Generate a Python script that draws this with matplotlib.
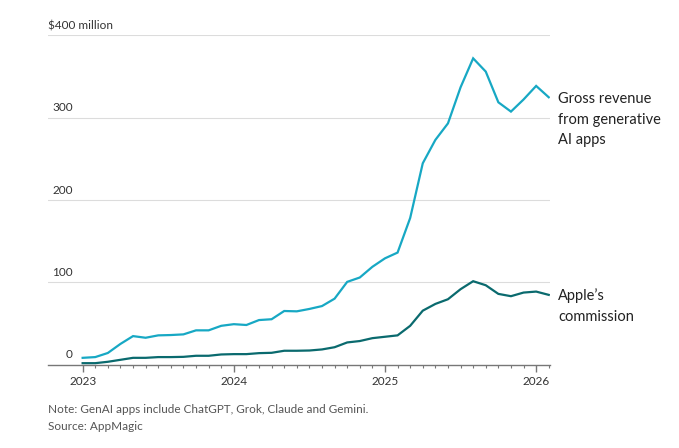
import matplotlib
matplotlib.use("Agg")
import matplotlib.pyplot as plt
import matplotlib.transforms as mtransforms
import numpy as np

# monthly values, Jan 2023 - Feb 2026, $ million
gross_revenue = [8.1, 9, 14, 25, 34.5, 32.5, 35.4, 35.8, 36.6, 41.5, 41.5, 47,
                 49, 48, 54, 55, 65, 64.6, 67.5, 71, 80, 100.4, 105.7, 118.7,
                 129, 136, 178, 244.5, 272.9, 293, 336.8, 372, 355.9, 318.6, 307.3, 322,
                 338.5, 324.7]
apple_commission = [1.6, 1.6, 3.3, 5.7, 8.1, 8.1, 9, 9, 9.3, 10.6, 10.6, 12.2,
                    12.6, 12.6, 13.8, 14.2, 16.7, 16.7, 17, 18.3, 21, 26.8, 28.5, 32,
                    33.7, 35.4, 47, 65.4, 73.6, 79.3, 91.5, 101.2, 96.3, 85.8, 83, 87.4,
                    88.6, 84.6]
year_labels = ["2023", "2024", "2025", "2026"]
y_labels = ["0", "100", "200", "300", "$400 million"]
y_values = [0, 100, 200, 300, 400]

plt.rcParams['font.family'] = ['Lato', 'DejaVu Sans']

fig = plt.figure(figsize=(6.79, 4.48), dpi=100)
ax = fig.add_axes([48 / 679, (448 - 364.5) / 448, 502 / 679, 329.2 / 448])

months = np.arange(len(gross_revenue))

# gridlines
for v in y_values[1:]:
    ax.axhline(v, color="#dcdcdc", lw=0.8, zorder=0)

ax.plot(months, gross_revenue, color="#17a8c4", lw=1.6, solid_joinstyle="miter")
ax.plot(months, apple_commission, color="#0a6a6e", lw=1.6, solid_joinstyle="miter")

ax.set_xlim(-2.75, 37.1)
ax.set_ylim(0, 400)

for s in ["top", "right", "left"]:
    ax.spines[s].set_visible(False)
ax.spines["bottom"].set_color("#777777")
ax.spines["bottom"].set_linewidth(1)

ax.set_yticks([])
ax.set_xticks([0, 12, 24, 36])
ax.set_xticklabels(year_labels, fontsize=8.5, color="#333333")
ax.set_xticks(np.arange(0, 38), minor=True)
ax.tick_params(axis="x", which="major", length=5, width=1, color="#777777", pad=3)
ax.tick_params(axis="x", which="minor", length=2.5, width=0.8, color="#777777")

# y labels sitting above gridlines
tr = ax.get_yaxis_transform() + mtransforms.ScaledTranslation(0, 3 / 72, fig.dpi_scale_trans)
for v, lab in zip(y_values, y_labels):
    if v == 400:
        ax.text(0, v, lab, transform=tr, ha="left", va="bottom", fontsize=8.5, color="#333333")
    else:
        ax.text(25 / 502, v, lab, transform=tr, ha="right", va="bottom", fontsize=8.5, color="#333333")

# series labels
fig.text(558 / 679, 1 - 92 / 448, "Gross revenue\nfrom generative\nAI apps", ha="left", va="top",
         fontsize=10.5, color="#222222", linespacing=1.6)
fig.text(558 / 679, 1 - 288 / 448, "Apple\u2019s\ncommission", ha="left", va="top",
         fontsize=10.5, color="#222222", linespacing=1.65)

# footer
fig.text(48 / 679, 1 - 409 / 448, "Note: GenAI apps include ChatGPT, Grok, Claude and Gemini.",
         ha="left", va="center", fontsize=8.5, color="#555555")
fig.text(48 / 679, 1 - 426 / 448, "Source: AppMagic", ha="left", va="center", fontsize=8.5, color="#555555")

fig.savefig("out.png", dpi=100)
